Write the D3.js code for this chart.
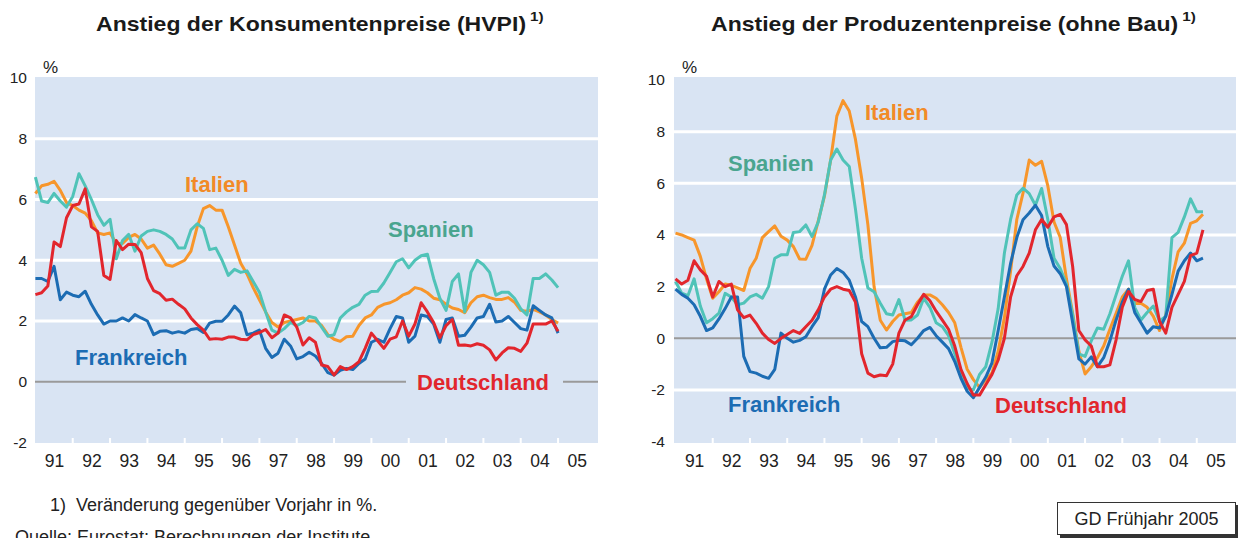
<!DOCTYPE html>
<html>
<head>
<meta charset="utf-8">
<script src="https://cdn.jsdelivr.net/npm/d3@7"></script>
<style>
  body { margin: 0; background: #fff; }
  text { font-family: "Liberation Sans", Arial, sans-serif; }
</style>
</head>
<body>
<div id="chart"></div>
<script>
"use strict"

// Zeitachse: ein Wert alle zwei Monate, ab Januar 1991
var startYear = 1991;
var stepYear = 1 / 6;
var yearLabels = ["91","92","93","94","95","96","97","98","99","00","01","02","03","04","05"];

// HVPI, Veraenderung gegenueber Vorjahr in %
var hvpiItalien = [6.2, 6.45, 6.5, 6.6, 6.3, 5.9, 5.8, 5.65, 5.55, 5.3,
  4.9, 4.85, 4.9, 4.55, 4.55, 4.75, 4.85, 4.7, 4.4, 4.5,
  4.2, 3.85, 3.8, 3.9, 4.0, 4.3, 5.1, 5.7, 5.8, 5.65,
  5.65, 5.1, 4.5, 3.9, 3.55, 3.1, 2.7, 2.3, 1.95, 1.8,
  1.95, 2.0, 2.05, 2.1, 2.0, 2.0, 1.85, 1.55, 1.4, 1.33,
  1.48, 1.5, 1.85, 2.1, 2.2, 2.45, 2.55, 2.6, 2.7, 2.85,
  2.93, 3.1, 3.05, 2.93, 2.75, 2.7, 2.55, 2.43, 2.38, 2.27,
  2.6, 2.8, 2.85, 2.77, 2.71, 2.71, 2.77, 2.62, 2.35, 2.32,
  2.38, 2.3, 2.2, 2.05, 1.93];
var hvpiSpanien = [6.74, 5.95, 5.9, 6.2, 5.95, 5.75, 6.1, 6.85, 6.45, 6.0,
  5.5, 5.15, 5.35, 4.05, 4.65, 4.85, 4.3, 4.8, 4.95, 5.0,
  4.95, 4.85, 4.7, 4.4, 4.4, 5.0, 5.2, 5.05, 4.35, 4.4,
  4.0, 3.5, 3.7, 3.6, 3.65, 3.3, 2.95, 2.3, 1.7, 1.6,
  1.75, 1.95, 1.85, 1.95, 2.15, 2.1, 1.8, 1.5, 1.55, 2.1,
  2.3, 2.45, 2.55, 2.85, 2.97, 2.98, 3.25, 3.6, 3.95, 4.05,
  3.75, 4.0, 4.15, 4.2, 3.4, 2.75, 2.35, 3.3, 3.55, 2.3,
  3.6, 4.0, 3.85, 3.6, 2.85, 2.95, 2.95, 2.75, 2.4, 2.2,
  3.4, 3.4, 3.55, 3.35, 3.1];
var hvpiFrankreich = [3.4, 3.4, 3.3, 3.8, 2.7, 2.95, 2.85, 2.8, 2.98, 2.55,
  2.2, 1.9, 2.0, 2.0, 2.1, 2.0, 2.21, 2.1, 2.0, 1.55,
  1.66, 1.68, 1.6, 1.65, 1.6, 1.72, 1.75, 1.62, 1.93, 1.99,
  1.99, 2.2, 2.49, 2.27, 1.55, 1.6, 1.7, 1.1, 0.8, 0.94,
  1.4, 1.18, 0.75, 0.83, 0.97, 0.85, 0.6, 0.3, 0.22, 0.38,
  0.44, 0.4, 0.6, 0.75, 1.3, 1.4, 1.3, 1.75, 2.15, 2.1,
  1.3, 1.5, 2.2, 2.15, 1.9, 1.3, 2.05, 2.1, 1.5, 1.53,
  1.8, 2.1, 2.15, 2.55, 1.97, 2.0, 2.15, 1.95, 1.75, 1.7,
  2.5, 2.35, 2.2, 2.1, 1.6];
var hvpiDeutschland = [2.87, 2.93, 3.15, 4.6, 4.45, 5.4, 5.8, 5.85, 6.35, 5.1,
  4.95, 3.5, 3.37, 4.65, 4.35, 4.53, 4.52, 4.25, 3.4, 3.0,
  2.9, 2.68, 2.72, 2.55, 2.4, 2.1, 1.88, 1.7, 1.4, 1.42,
  1.4, 1.47, 1.47, 1.4, 1.38, 1.55, 1.62, 1.72, 1.45, 1.6,
  2.2, 2.1, 1.8, 1.21, 1.45, 1.3, 0.55, 0.5, 0.22, 0.5,
  0.4, 0.5, 0.66, 1.1, 1.6, 1.35, 1.1, 1.4, 1.48, 2.0,
  1.5, 1.9, 2.6, 2.3, 1.95, 1.45, 1.85, 2.05, 1.2, 1.21,
  1.18, 1.25, 1.2, 1.05, 0.72, 0.95, 1.12, 1.1, 1.0, 1.27,
  1.9, 1.9, 1.9, 2.0, 1.66];

// Erzeugerpreise (ohne Bau), Veraenderung gegenueber Vorjahr in %
var ppiItalien = [4.07, 4.0, 3.9, 3.8, 3.17, 2.3, 1.55, 1.8, 2.1, 2.05,
  1.95, 1.85, 2.7, 3.1, 3.9, 4.13, 4.35, 3.95, 3.8, 3.55,
  3.07, 3.06, 3.6, 4.55, 5.5, 6.9, 8.6, 9.2, 8.8, 7.7,
  6.2, 4.4, 2.0, 0.7, 0.32, 0.65, 0.9, 0.95, 1.0, 1.4,
  1.68, 1.68, 1.55, 1.3, 1.0, 0.6, -0.35, -1.2, -1.6, -1.9,
  -1.6, -1.35, -0.5, 0.8, 2.6, 4.6, 5.62, 6.9, 6.7, 6.85,
  5.9, 4.5, 3.9, 2.3, 0.97, -0.5, -1.38, -1.1, -0.75, -0.3,
  0.35, 0.97, 1.6, 1.9, 1.35, 1.36, 1.2, 0.85, 0.3, 0.9,
  2.3, 3.35, 3.68, 4.45, 4.55, 4.8];
var ppiSpanien = [2.2, 1.75, 1.65, 2.3, 1.25, 0.6, 0.76, 0.97, 1.74, 1.6,
  1.3, 1.36, 1.6, 1.7, 1.55, 2.0, 3.1, 3.23, 3.23, 4.1,
  4.13, 4.39, 3.94, 4.5, 5.55, 6.9, 7.33, 6.9, 6.65, 5.0,
  3.1, 1.95, 1.8, 1.36, 0.95, 0.9, 1.5, 0.7, 0.71, 0.9,
  1.55, 1.2, 0.6, 0.45, 0.1, -0.6, -1.3, -1.95, -2.0, -1.4,
  -1.1, -0.15, 1.15, 3.3, 4.6, 5.55, 5.81, 5.6, 5.15, 5.8,
  4.6, 3.1, 2.7, 2.1, 0.9, -0.6, -0.7, -0.1, 0.4, 0.35,
  0.95, 1.68, 2.4, 3.0, 1.2, 0.71, 1.0, 1.25, 0.67, 0.85,
  3.9, 4.1, 4.7, 5.4, 4.9, 4.9];
var ppiFrankreich = [1.9, 1.7, 1.55, 1.3, 0.85, 0.3, 0.4, 0.75, 1.15, 1.6,
  1.6, -0.7, -1.29, -1.35, -1.47, -1.55, -1.2, 0.2, 0.0, -0.15,
  -0.08, 0.06, 0.45, 0.8, 1.9, 2.45, 2.7, 2.55, 2.25, 1.6,
  0.65, 0.45, 0.0, -0.37, -0.35, -0.13, -0.08, -0.1, -0.25, 0.0,
  0.3, 0.42, 0.1, -0.15, -0.4, -0.9, -1.55, -2.05, -2.3, -1.9,
  -1.5, -0.95, 0.3, 1.6, 2.9, 3.9, 4.59, 4.85, 5.15, 4.75,
  3.55, 2.8, 2.5, 2.0, 0.6, -0.8, -1.0, -0.72, -1.1, -0.75,
  -0.1, 0.71, 1.4, 1.9, 1.0, 0.6, 0.2, 0.45, 0.4, 0.85,
  1.7, 2.6, 3.0, 3.3, 3.0, 3.1];
var ppiDeutschland = [2.3, 2.1, 2.25, 3.0, 2.65, 2.4, 1.6, 2.2, 2.0, 2.1,
  1.1, 0.8, 0.9, 0.58, 0.2, -0.05, -0.2, 0.0, 0.15, 0.3,
  0.19, 0.45, 0.7, 1.1, 1.6, 1.9, 2.0, 1.9, 1.85, 1.4,
  -0.6, -1.35, -1.49, -1.42, -1.45, -1.0, 0.2, 0.71, 0.84, 1.3,
  1.7, 1.45, 1.05, 0.7, 0.35, -0.3, -1.2, -1.75, -2.2, -2.2,
  -1.8, -1.4, -0.84, 0.0, 1.6, 2.42, 2.78, 3.3, 4.2, 4.6,
  4.3, 4.7, 4.8, 4.4, 2.78, 0.3, -0.06, -0.3, -1.1, -1.1,
  -1.03, -0.06, 1.2, 1.81, 1.5, 1.42, 1.85, 1.9, 0.65, 0.2,
  1.2, 1.7, 2.2, 3.2, 3.3, 4.2];

var lineColor = { Italien: "#f7962b", Spanien: "#50c3b8", Frankreich: "#1c6cb3", Deutschland: "#e2262d" };
var textColor = { Italien: "#f28a27", Spanien: "#4aa58f", Frankreich: "#1c6cb3", Deutschland: "#e2262d" };
var plotBg = "#d9e4f3";
var stretch = 1.13;

var svg = d3.select("#chart").append("svg")
  .attr("width", 1239)
  .attr("height", 538);

function createPanel(cfg) {
  var g = svg.append("g");

  var x = d3.scaleLinear()
    .domain([1991, 2006])
    .range(cfg.xRange);

  var y = d3.scaleLinear()
    .domain(cfg.yDomain)
    .range(cfg.yRange);

  g.append("rect")
    .attr("x", cfg.box[0]).attr("y", 77)
    .attr("width", cfg.box[1] - cfg.box[0]).attr("height", 366)
    .attr("fill", plotBg);

  // weisse Gitterlinien
  g.selectAll(".grid").data(cfg.grid).enter().append("line")
    .attr("x1", cfg.box[0]).attr("x2", cfg.box[1])
    .attr("y1", function(d) { return y(d); })
    .attr("y2", function(d) { return y(d); })
    .attr("stroke", "#fff").attr("stroke-width", 3);

  g.append("line")
    .attr("x1", cfg.box[0]).attr("x2", cfg.box[1])
    .attr("y1", y(0)).attr("y2", y(0))
    .attr("stroke", "#9a9a9a").attr("stroke-width", 2);

  // kleine Jahresmarken unten
  g.selectAll(".tick-mark").data(d3.range(1992, 2006)).enter().append("line")
    .attr("x1", function(d) { return x(d); })
    .attr("x2", function(d) { return x(d); })
    .attr("y1", 438).attr("y2", 443)
    .attr("stroke", "#fff").attr("stroke-width", 2);

  var y_axis = d3.axisLeft(y)
    .tickValues(cfg.yTicks)
    .tickSize(0)
    .tickPadding(cfg.box[0] - cfg.yLabelRight)
    .tickFormat(function(d) { return String(d); });
  var ya = g.append("g")
    .attr("transform", "translate(" + cfg.box[0] + ",0)")
    .call(y_axis);
  ya.select(".domain").remove();
  ya.selectAll("text").attr("font-size", 15.5).attr("fill", "#222")
    .style("font-family", '"Liberation Sans", Arial, sans-serif');

  var x_axis = d3.axisBottom(x)
    .tickValues(d3.range(0, yearLabels.length).map(function(i) { return 1991.5 + i; }))
    .tickSize(0)
    .tickPadding(12)
    .tickFormat(function(d, i) { return yearLabels[i]; });
  var xa = g.append("g")
    .attr("transform", "translate(0,443)")
    .call(x_axis);
  xa.select(".domain").remove();
  xa.selectAll("text").attr("font-size", 17.5).attr("fill", "#222")
    .style("font-family", '"Liberation Sans", Arial, sans-serif');

  g.append("text")
    .attr("x", cfg.percentX).attr("y", 73)
    .attr("font-size", 17).attr("fill", "#222")
    .text("%");

  var line = d3.line()
    .x(function(d, i) { return x(startYear + i * stepYear); })
    .y(function(d) { return y(d); });

  cfg.series.forEach(function(s) {
    g.append("path")
      .datum(s.values)
      .attr("fill", "none")
      .attr("stroke", lineColor[s.name])
      .attr("stroke-width", 3)
      .attr("stroke-linejoin", "round")
      .attr("d", line);
  });

  cfg.labels.forEach(function(l) {
    if (l.bg) {
      g.append("rect")
        .attr("x", l.bg[0]).attr("y", y(0) - 5)
        .attr("width", l.bg[1] - l.bg[0]).attr("height", 10)
        .attr("fill", plotBg);
    }
    g.append("text")
      .attr("x", l.x).attr("y", l.y)
      .attr("font-size", 22).attr("font-weight", "bold")
      .attr("fill", textColor[l.name])
      .text(l.name);
  });

  // Ueberschrift, leicht gestreckt wie im Original
  var t = g.append("text")
    .attr("transform", "translate(" + cfg.titleX + ",31) scale(" + stretch + ",1)")
    .attr("font-size", 20.4).attr("font-weight", "bold").attr("fill", "#1a1a1a")
    .text(cfg.title);
  var w = t.node().getComputedTextLength() * stretch;
  g.append("text")
    .attr("transform", "translate(" + (cfg.titleX + w + 4) + ",21) scale(" + stretch + ",1)")
    .attr("font-size", 13.5).attr("font-weight", "bold").attr("fill", "#1a1a1a")
    .text("1)");
}

createPanel({
  title: "Anstieg der Konsumentenpreise (HVPI)",
  titleX: 96,
  xRange: [35.4, 595.4],
  box: [35, 598],
  yDomain: [-2, 10],
  yRange: [442.5, 78],
  yTicks: [-2, 0, 2, 4, 6, 8, 10],
  grid: [2, 4, 6, 8],
  yLabelRight: 27,
  percentX: 43,
  series: [
    { name: "Italien", values: hvpiItalien },
    { name: "Spanien", values: hvpiSpanien },
    { name: "Frankreich", values: hvpiFrankreich },
    { name: "Deutschland", values: hvpiDeutschland }
  ],
  labels: [
    { name: "Italien", x: 185, y: 192 },
    { name: "Spanien", x: 388, y: 237 },
    { name: "Frankreich", x: 75, y: 365 },
    { name: "Deutschland", x: 417, y: 390, bg: [406, 563] }
  ]
});

createPanel({
  title: "Anstieg der Produzentenpreise (ohne Bau)",
  titleX: 711,
  xRange: [675.5, 1234],
  box: [674, 1236],
  yDomain: [-4, 10],
  yRange: [441.6, 80],
  yTicks: [-4, -2, 0, 2, 4, 6, 8, 10],
  grid: [-2, 2, 4, 6, 8],
  yLabelRight: 665,
  percentX: 682,
  series: [
    { name: "Italien", values: ppiItalien },
    { name: "Spanien", values: ppiSpanien },
    { name: "Frankreich", values: ppiFrankreich },
    { name: "Deutschland", values: ppiDeutschland }
  ],
  labels: [
    { name: "Italien", x: 865, y: 120 },
    { name: "Spanien", x: 728, y: 171 },
    { name: "Frankreich", x: 728, y: 412 },
    { name: "Deutschland", x: 995, y: 413 }
  ]
});

// Fussnoten
svg.append("text")
  .attr("x", 50).attr("y", 511)
  .attr("font-size", 18).attr("fill", "#222")
  .style("white-space", "pre")
  .text("1)  Veränderung gegenüber Vorjahr in %.");
svg.append("text")
  .attr("x", 15).attr("y", 543)
  .attr("font-size", 18).attr("fill", "#222")
  .text("Quelle: Eurostat; Berechnungen der Institute.");

// Kasten GD Fruehjahr 2005
svg.append("rect")
  .attr("x", 1060).attr("y", 505).attr("width", 178).attr("height", 33)
  .attr("fill", "#333");
svg.append("rect")
  .attr("x", 1057.5).attr("y", 502.5).attr("width", 178).attr("height", 32)
  .attr("fill", "#fff").attr("stroke", "#333").attr("stroke-width", 1);
svg.append("text")
  .attr("x", 1146.5).attr("y", 525)
  .attr("text-anchor", "middle")
  .attr("font-size", 18).attr("fill", "#222")
  .text("GD Frühjahr 2005");
</script>
</body>
</html>
